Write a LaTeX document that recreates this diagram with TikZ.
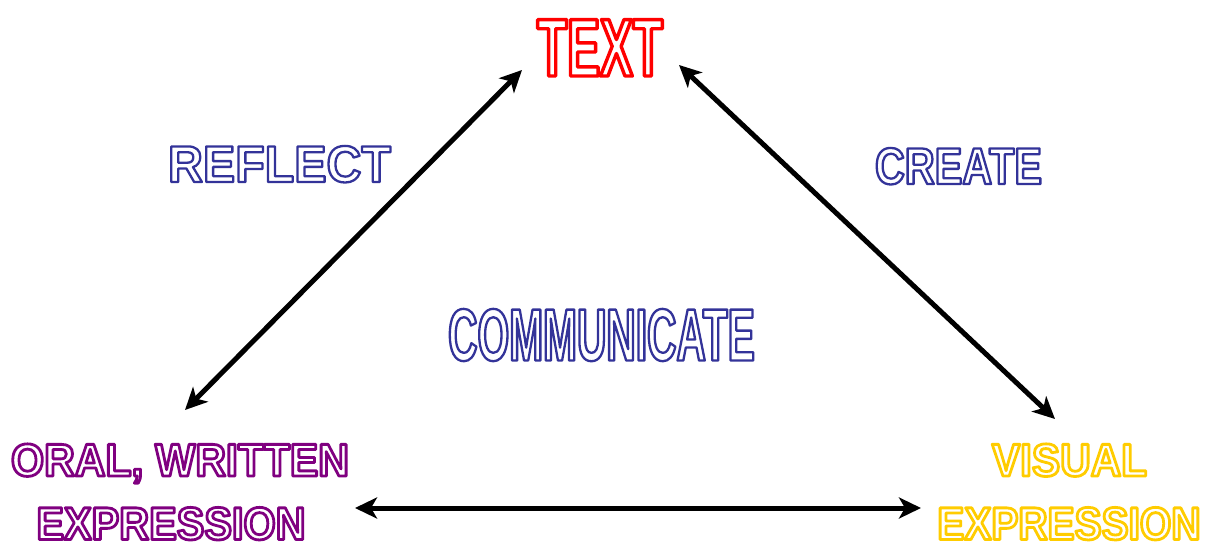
\documentclass[tikz,border=0pt]{standalone}
\usepackage{fontspec}
\setmainfont{Liberation Sans}
\usetikzlibrary{arrows.meta}
\definecolor{tred}{HTML}{FF0000}
\definecolor{tblue}{HTML}{333399}
\definecolor{tpurple}{HTML}{800080}
\definecolor{tgold}{HTML}{FFCC00}
% outlined text: stretch, size, stroke width, text
\newcommand\outlinetext[4]{\fontspec{Liberation Sans}[FakeStretch=#1]\bfseries\fontsize{#2}{#2}\selectfont\special{pdf:code q 1 Tr 1 j #3 w}#4\special{pdf:code Q}}
\tikzset{
  lbl/.style={inner sep=0pt, outer sep=0pt, anchor=base},
  dbl/.style={line width=5pt, {Stealth[length=22pt,width=21pt,inset=6pt]}-{Stealth[length=22pt,width=21pt,inset=6pt]}}
}
\begin{document}
\begin{tikzpicture}[x=1pt,y=-1pt]
\useasboundingbox (0,0) rectangle (1211,546);
\fill[white] (0,0) rectangle (1211,546);
\node[lbl, text=tred] (text) at (600,76) {\outlinetext{0.6}{82}{3.4}{TEXT}};
\node[lbl, text=tblue] (reflect) at (279.5,182) {\outlinetext{0.935}{51.7}{2.3}{REFLECT}};
\node[lbl, text=tblue] (create) at (958.5,184) {\outlinetext{0.8}{51.7}{2.3}{CREATE}};
\node[lbl, text=tblue] (comm) at (601.5,360.5) {\outlinetext{0.55}{74}{2.3}{COMMUNICATE}};
\node[lbl, text=tpurple] (oral) at (180,476) {\outlinetext{0.925}{46}{2.8}{ORAL, WRITTEN}};
\node[lbl, text=tpurple] (exl) at (171,539.5) {\outlinetext{0.9}{46}{2.8}{EXPRESSION}};
\node[lbl, text=tgold] (visual) at (1069.5,476) {\outlinetext{0.92}{46}{2.8}{VISUAL}};
\node[lbl, text=tgold] (exr) at (1069,539.5) {\outlinetext{0.88}{46}{2.8}{EXPRESSION}};
\coordinate (a1s) at (185,410);
\coordinate (a1e) at (522,70);
\coordinate (a2s) at (679,65);
\coordinate (a2e) at (1055,419);
\coordinate (a3s) at (355,508);
\coordinate (a3e) at (921,508);
\draw[dbl] (a1s) -- (a1e);
\draw[dbl] (a2s) -- (a2e);
\draw[dbl] (a3s) -- (a3e);
\end{tikzpicture}
\end{document}
